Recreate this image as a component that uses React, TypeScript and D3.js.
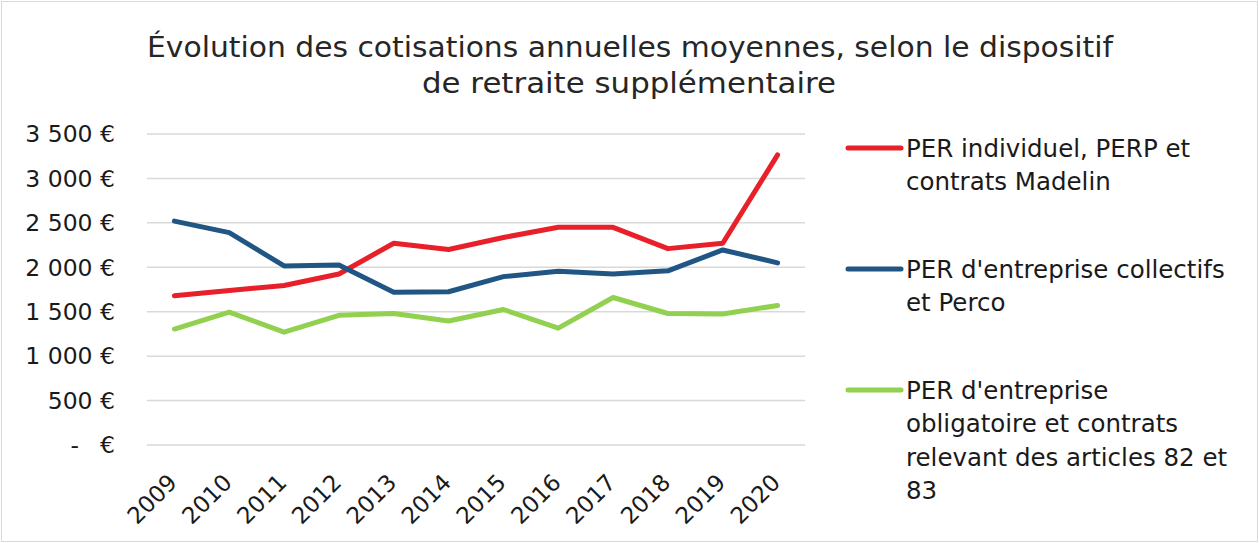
import React, { useEffect, useRef } from "react";
import * as d3 from "d3";

const years = ["2009", "2010", "2011", "2012", "2013", "2014", "2015", "2016", "2017", "2018", "2019", "2020"];
const perIndividuel = [1680, 1740, 1795, 1925, 2270, 2200, 2335, 2450, 2450, 2210, 2270, 3265];
const perCollectif = [2520, 2390, 2015, 2025, 1720, 1725, 1895, 1955, 1925, 1960, 2195, 2050];
const perObligatoire = [1305, 1495, 1270, 1460, 1480, 1395, 1525, 1315, 1660, 1480, 1475, 1570];
const yTicks = [0, 500, 1000, 1500, 2000, 2500, 3000, 3500];

const seriesNames = [
  ["PER individuel, PERP et", "contrats Madelin"],
  ["PER d'entreprise collectifs", "et Perco"],
  ["PER d'entreprise", "obligatoire et contrats", "relevant des articles 82 et", "83"],
];
const seriesColors = ["#e8202a", "#215584", "#92d050"];

const W = 1259;
const H = 543;
const FONT = "'DejaVu Sans', sans-serif";

function fmt(v: number) {
  return d3.format(",")(v).replace(",", " ") + " €";
}

export default function App() {
  const ref = useRef<SVGSVGElement>(null);

  useEffect(() => {
    const svg = d3.select(ref.current);
    svg.selectAll("*").remove();

    svg.append("rect").attr("x", 1.5).attr("y", 1.5).attr("width", W - 3).attr("height", H - 3)
      .attr("fill", "white").attr("stroke", "#d9d9d9");

    const x = d3.scaleBand().domain(years).range([147, 805]);
    const y = d3.scaleLinear().domain([0, 3500]).range([445, 134]);

    // title
    const title = svg.append("text").attr("text-anchor", "middle").attr("font-family", FONT)
      .attr("font-size", 28).attr("fill", "#262626");
    title.append("tspan").attr("x", 630).attr("y", 57)
      .attr("textLength", 966).attr("lengthAdjust", "spacingAndGlyphs")
      .text("Évolution des cotisations annuelles moyennes, selon le dispositif");
    title.append("tspan").attr("x", 629).attr("y", 93)
      .attr("textLength", 414).attr("lengthAdjust", "spacingAndGlyphs")
      .text("de retraite supplémentaire");

    // grid
    svg.append("g").selectAll("line").data(yTicks).join("line")
      .attr("x1", 147).attr("x2", 805)
      .attr("y1", (d) => y(d)).attr("y2", (d) => y(d))
      .attr("stroke", "#d9d9d9").attr("stroke-width", 1.5);

    // y labels
    const yl = svg.append("g").attr("font-family", FONT).attr("font-size", 23.5).attr("fill", "#1a1a1a");
    yl.selectAll("text.v").data(yTicks.filter((d) => d > 0)).join("text").attr("class", "v")
      .attr("x", 115).attr("y", (d) => y(d)).attr("dy", "0.35em")
      .attr("text-anchor", "end").text((d) => fmt(d));
    yl.append("text").attr("x", 115).attr("y", y(0)).attr("dy", "0.35em")
      .attr("text-anchor", "end").text("€");
    yl.append("text").attr("x", 79).attr("y", y(0)).attr("dy", "0.35em")
      .attr("text-anchor", "end").text("-");

    // x labels
    svg.append("g").selectAll("text").data(years).join("text")
      .attr("transform", (d) => `translate(${x(d)! + x.bandwidth() / 2 + 4},${484}) rotate(-45)`)
      .attr("text-anchor", "end").attr("font-family", FONT).attr("font-size", 23)
      .attr("fill", "#1a1a1a").text((d) => d);

    const line = d3.line<number>()
      .x((_, i) => x(years[i])! + x.bandwidth() / 2)
      .y((d) => y(d));

    [perIndividuel, perCollectif, perObligatoire].forEach((s, i) => {
      svg.append("path").datum(s).attr("d", line).attr("fill", "none")
        .attr("stroke", seriesColors[i]).attr("stroke-width", 5)
        .attr("stroke-linejoin", "round").attr("stroke-linecap", "round");
    });

    // legend
    const legendY = [148, 269, 390];
    seriesNames.forEach((lines, i) => {
      const g = svg.append("g");
      g.append("line").attr("x1", 848).attr("x2", 901)
        .attr("y1", legendY[i]).attr("y2", legendY[i])
        .attr("stroke", seriesColors[i]).attr("stroke-width", 5).attr("stroke-linecap", "round");
      const t = g.append("text").attr("font-family", FONT).attr("font-size", 24.5).attr("fill", "#1a1a1a");
      lines.forEach((l, j) => {
        t.append("tspan").attr("x", 906).attr("y", legendY[i] + j * 33.5).attr("dy", "0.35em").text(l);
      });
    });
  }, []);

  return (
    <svg ref={ref} width={W} height={H}
      style={{ position: "absolute", left: 0, top: 0, background: "white" }} />
  );
}
